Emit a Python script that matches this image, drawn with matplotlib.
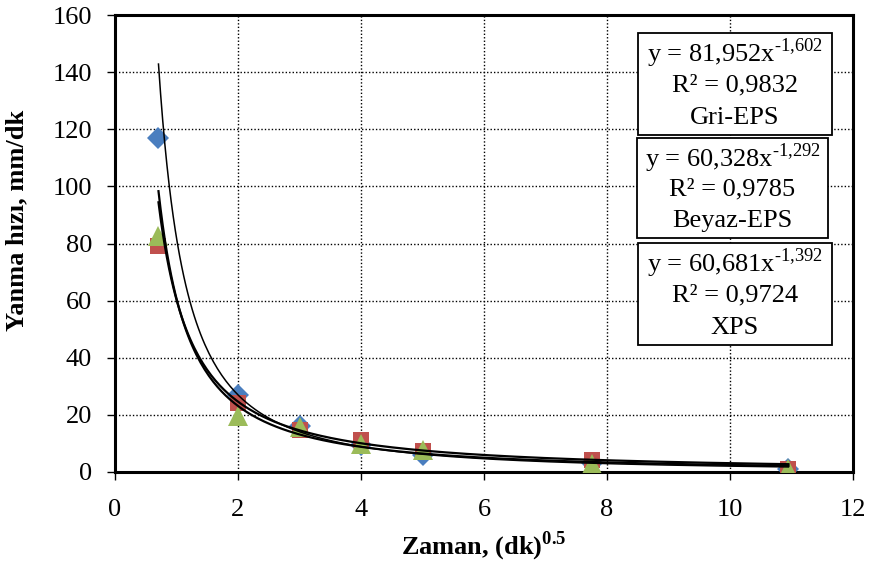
import matplotlib.pyplot as plt
import numpy as np

plt.rcParams['font.family'] = ['Liberation Serif', 'DejaVu Serif']
plt.rcParams['mathtext.fontset'] = 'custom'
plt.rcParams['mathtext.rm'] = 'Liberation Serif'
plt.rcParams['mathtext.bf'] = 'Liberation Serif:bold'

# zaman, (dk)^0.5
x = [0.707, 2.0, 3.0, 4.0, 5.0, 7.75, 10.95]

# yanma hizi, mm/dk
gri_eps = [117, 27, 16, 9.5, 6.0, 3.0, 1.0]
beyaz_eps = [79, 24, 14.7, 11.2, 7.4, 4.2, 1.0]
xps = [82.6, 19.5, 15.8, 9.8, 7.8, 2.8, 1.0]

# trend denklemleri (a, b) -> y = a x^b
fit_gri = (81.952, -1.602)
fit_beyaz = (60.328, -1.292)
fit_xps = (60.681, -1.392)

kutular = [
    ("y = 81,952x$^{\\text{-1,602}}$", "R² = 0,9832", "Gri-EPS"),
    ("y = 60,328x$^{\\text{-1,292}}$", "R² = 0,9785", "Beyaz-EPS"),
    ("y = 60,681x$^{\\text{-1,392}}$", "R² = 0,9724", "XPS"),
]

fig = plt.figure(figsize=(8.73, 5.65), dpi=100)
ax = fig.add_axes([115/873, 1-472/565, 738/873, 457/565])

# noktalar
ax.plot(x, gri_eps, 'D', color='#4a7ebf', markersize=11, zorder=3, markeredgewidth=0)
ax.plot(x, beyaz_eps, 's', color='#c0504d', markersize=12, zorder=3, markeredgewidth=0)
ax.plot(x, xps, '^', color='#9bbb59', markersize=14, zorder=3, markeredgewidth=0)

# trend egrileri
xx = np.linspace(x[0], x[-1], 300)
ax.plot(xx, fit_gri[0]*xx**fit_gri[1], color='black', lw=1.1, zorder=4)
ax.plot(xx, fit_beyaz[0]*xx**fit_beyaz[1], color='black', lw=1.6, zorder=4)
ax.plot(xx, fit_xps[0]*xx**fit_xps[1], color='black', lw=1.6, zorder=4)

ax.set_xlim(0, 12)
ax.set_ylim(0, 160)
ax.set_xticks(np.arange(0, 13, 2))
ax.set_yticks(np.arange(0, 161, 20))
ax.grid(True, linestyle=(0, (1, 1.5)), color='black', lw=1.0)
ax.set_axisbelow(True)
for s in ax.spines.values():
    s.set_linewidth(2.2)
ax.tick_params(direction='out', length=5.5, width=1, labelsize=19, colors='black')
ax.tick_params(axis='x', pad=14)
ax.tick_params(axis='y', pad=11)

ax.set_xlabel("Zaman, (dk)$^{\\mathbf{0.5}}$", fontsize=19, fontweight='bold')
ax.xaxis.set_label_coords(0.5, -0.127)
ax.set_ylabel("Yanma hızı, mm/dk", fontsize=19, fontweight='bold')
ax.yaxis.set_label_coords(-0.118, 0.55)

# denklem kutulari (piksel konumlari)
box_pos = [(638, 33, 832, 135), (637, 138, 828, 238), (638, 243, 832, 345)]
for (l, t, r, b), lines in zip(box_pos, kutular):
    rect = plt.Rectangle((l/873, 1-b/565), (r-l)/873, (b-t)/565, transform=fig.transFigure,
                         facecolor='white', edgecolor='black', lw=1.3, zorder=5)
    fig.add_artist(rect)
    cx = (l+r)/2/873
    h = (b-t)
    for i, txt in enumerate(lines):
        yy = t + h*(0.2 + 0.315*i)
        fig.text(cx, 1-yy/565, txt, ha='center', va='center', fontsize=19, zorder=6)

fig.savefig('out.png', dpi=100)
